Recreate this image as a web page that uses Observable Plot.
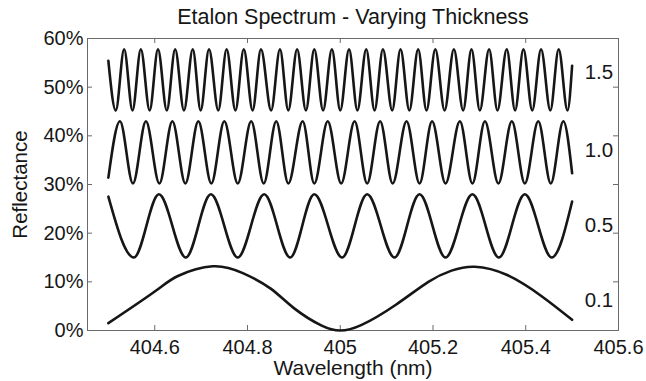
<!DOCTYPE html>
<html>
<head>
<meta charset="utf-8">
<script src="https://cdn.jsdelivr.net/npm/d3@7"></script>
<script src="https://cdn.jsdelivr.net/npm/@observablehq/plot@0.6"></script>
<style>
  html, body { margin: 0; padding: 0; background: #fff; }
  #chart svg { display: block; }
</style>
</head>
<body>
<div id="chart"></div>
<script>
// ---- text ----
const title = "Etalon Spectrum - Varying Thickness";
const xLabel = "Wavelength (nm)";
const yLabel = "Reflectance";

// ---- ticks ----
const xTicks = [404.6, 404.8, 405, 405.2, 405.4, 405.6];
const xTickLabels = ["404.6", "404.8", "405", "405.2", "405.4", "405.6"];
const yTicks = [0, 10, 20, 30, 40, 50, 60];
const yTickLabels = ["0%", "10%", "20%", "30%", "40%", "50%", "60%"];

// ---- series (thickness labels and where they sit) ----
const thicknessNames = ["1.5", "1.0", "0.5", "0.1"];
const labelWavelength = [405.527, 405.527, 405.527, 405.527];
const labelLevel = [53.0, 36.9, 21.5, 6.1];

// thickness 1.5 : wavelength (nm) of start, troughs/peaks, end; reflectance (%)
const wl15 = [404.500, 404.516, 404.534, 404.552, 404.570, 404.589, 404.607, 404.626, 404.644, 404.663,
              404.682, 404.699, 404.717, 404.737, 404.755, 404.774, 404.792, 404.811, 404.829, 404.851,
              404.870, 404.888, 404.907, 404.926, 404.944, 404.963, 404.982, 405.000, 405.019, 405.037,
              405.056, 405.074, 405.092, 405.112, 405.130, 405.149, 405.168, 405.186, 405.205, 405.225,
              405.245, 405.265, 405.283, 405.301, 405.321, 405.339, 405.359, 405.377, 405.395, 405.414,
              405.433, 405.453, 405.471, 405.490, 405.500];
const r15 = [55.4, 45.2, 57.8, 45.2, 57.8, 45.2, 57.8, 45.2, 57.8, 45.2,
             57.8, 45.2, 57.8, 45.2, 57.8, 45.2, 57.8, 45.2, 57.8, 45.2,
             57.8, 45.2, 57.8, 45.2, 57.8, 45.2, 57.8, 45.2, 57.8, 45.2,
             57.8, 45.2, 57.8, 45.2, 57.8, 45.2, 57.8, 45.2, 57.8, 45.2,
             57.8, 45.2, 57.8, 45.2, 57.8, 45.2, 57.8, 45.2, 57.8, 45.2,
             57.8, 45.2, 57.8, 45.2, 54.4];

// thickness 1.0
const wl10 = [404.500, 404.525, 404.553, 404.581, 404.610, 404.638, 404.666, 404.694, 404.722, 404.750,
              404.779, 404.808, 404.835, 404.862, 404.888, 404.919, 404.944, 404.973, 405.002, 405.031,
              405.058, 405.086, 405.113, 405.143, 405.171, 405.198, 405.227, 405.258, 405.285, 405.312,
              405.341, 405.370, 405.398, 405.427, 405.454, 405.481, 405.500];
const r10 = [31.4, 43.0, 30.2, 43.0, 30.2, 43.0, 30.2, 43.0, 30.2, 43.0,
             30.2, 43.0, 30.2, 43.0, 30.2, 43.0, 30.2, 43.0, 30.2, 43.0,
             30.2, 43.0, 30.2, 43.0, 30.2, 43.0, 30.2, 43.0, 30.2, 43.0,
             30.2, 43.0, 30.2, 43.0, 30.2, 43.0, 32.3];

// thickness 0.5
const wl05 = [404.500, 404.555, 404.609, 404.667, 404.721, 404.779, 404.836, 404.892, 404.944, 405.004,
              405.058, 405.117, 405.171, 405.227, 405.285, 405.342, 405.398, 405.456, 405.500];
const r05 = [27.5, 15.0, 28.0, 15.0, 28.0, 15.0, 28.0, 15.0, 28.0, 15.0,
             28.0, 15.0, 28.0, 15.0, 28.0, 15.0, 28.0, 15.0, 26.5];

// thickness 0.1
const wl01 = [404.500, 404.600, 404.650, 404.725, 404.790, 404.850, 404.900, 404.960, 405.000, 405.045,
              405.120, 405.190, 405.240, 405.290, 405.360, 405.435, 405.500];
const r01 = [1.5, 8.0, 11.2, 13.2, 11.8, 8.6, 4.6, 1.0, 0.0, 1.1,
             5.3, 10.0, 12.3, 13.1, 11.4, 7.0, 2.2];

// ---- build table ----
const seriesWl = [wl15, wl10, wl05, wl01];
const seriesR = [r15, r10, r05, r01];
const rows = thicknessNames.flatMap((name, k) =>
  seriesWl[k].map((w, i) => ({series: name, wl: w, r: seriesR[k][i]})));
const labels = thicknessNames.map((name, k) => ({name, wl: labelWavelength[k], r: labelLevel[k]}));
const fastRows = rows.filter(d => d.series !== "0.1");
const slowRows = rows.filter(d => d.series === "0.1");

// ---- layout ----
const W = 646, H = 381;
const mL = 87, mR = 28, mT = 38, mB = 51;
const innerW = W - mL - mR, innerH = H - mT - mB;
const tickLen = 5;
const axisColor = "#6a6a6a";
const ink = "#161616";
const font = "'Liberation Sans', Arial, Helvetica, sans-serif";

const chart = Plot.plot({
  width: W,
  height: H,
  marginLeft: mL, marginRight: mR, marginTop: mT, marginBottom: mB,
  style: {fontFamily: font, fontSize: "20px", color: ink, background: "#fff", overflow: "visible"},
  x: {domain: [404.455, 405.6]},
  y: {domain: [0, 60]},
  marks: [
    Plot.frame({stroke: axisColor, strokeWidth: 1}),
    // inward ticks: bottom, top, left, right
    Plot.ruleX(xTicks, {x: d => d, insetTop: innerH - tickLen, stroke: axisColor}),
    Plot.ruleX(xTicks, {x: d => d, insetBottom: innerH - tickLen, stroke: axisColor}),
    Plot.ruleY(yTicks, {y: d => d, insetRight: innerW - tickLen, stroke: axisColor}),
    Plot.ruleY(yTicks, {y: d => d, insetLeft: innerW - tickLen, stroke: axisColor}),
    Plot.axisX(xTicks, {tickSize: 0, tickPadding: 9, label: null, fontSize: 20,
      tickFormat: d => xTickLabels[xTicks.indexOf(d)]}),
    Plot.axisY(yTicks, {tickSize: 0, tickPadding: 4, label: null, fontSize: 20,
      tickFormat: d => yTickLabels[yTicks.indexOf(d)]}),
    Plot.line(fastRows, {x: "wl", y: "r", z: "series", curve: "monotone-x",
      stroke: ink, strokeWidth: 2.6, strokeLinejoin: "round"}),
    Plot.line(slowRows, {x: "wl", y: "r", z: "series", curve: "natural",
      stroke: ink, strokeWidth: 2.6, strokeLinejoin: "round"}),
    Plot.text(labels, {x: "wl", y: "r", text: "name", textAnchor: "start", fontSize: 20.5, fill: ink}),
    Plot.text([title], {text: d => d, frameAnchor: "top", lineAnchor: "middle", textAnchor: "middle",
      dy: -21, fontSize: 21.5, fill: ink}),
    Plot.text([xLabel], {text: d => d, frameAnchor: "bottom", lineAnchor: "middle", textAnchor: "middle",
      dy: 38, fontSize: 21, fill: ink}),
    Plot.text([yLabel], {text: d => d, frameAnchor: "left", lineAnchor: "middle", textAnchor: "middle",
      rotate: -90, dx: -67, fontSize: 20.5, fill: ink})
  ]
});
document.getElementById("chart").appendChild(chart);
</script>
</body>
</html>
